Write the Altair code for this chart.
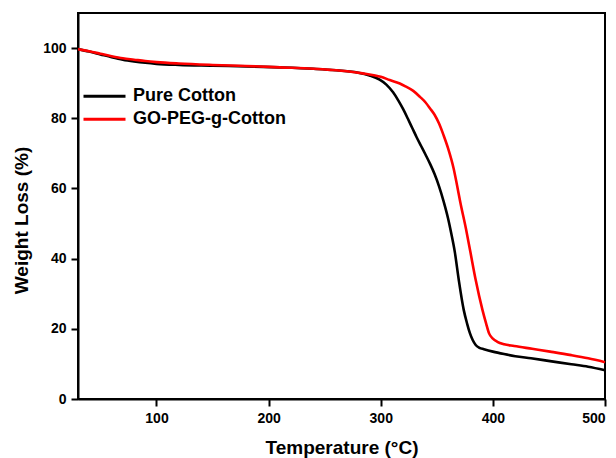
import altair as alt
import pandas as pd

# ---- data ----
temp_cotton = [30, 40, 50, 60, 70, 80, 90, 100, 120, 150, 180, 210, 240, 260, 270, 280,
               290, 299, 305, 311, 316, 320, 324, 328, 332, 336, 340, 344, 348, 352, 356,
               360, 363, 366, 369.6, 374, 377, 379.6, 382, 384.7, 388, 392, 400, 410, 420,
               434, 451, 470, 485, 500]
wt_cotton = [99.7, 99.0, 98.2, 97.4, 96.7, 96.2, 95.8, 95.5, 95.2, 95.0, 94.8, 94.5, 94.1,
             93.7, 93.4, 93.0, 92.2, 91.0, 89.6, 87.4, 84.9, 82.6, 80.0, 77.3, 74.6, 72.1,
             69.6, 67.0, 64.1, 60.6, 56.4, 51.5, 47.0, 42.0, 33.9, 25.4, 21.5, 18.7, 16.8,
             15.4, 14.6, 14.2, 13.5, 12.8, 12.2, 11.6, 10.8, 9.9, 9.2, 8.2]

temp_go = [30, 40, 50, 60, 70, 80, 90, 100, 120, 150, 180, 210, 240, 255, 270, 284, 295,
           300, 308, 317, 322, 329, 335, 340, 344, 348, 352, 356, 360, 365, 368, 371, 376,
           380, 384.7, 390.7, 394, 396.6, 400, 404, 410, 419, 435, 451, 470, 485, 500]
wt_go = [99.7, 99.1, 98.4, 97.7, 97.1, 96.7, 96.3, 96.0, 95.6, 95.2, 94.9, 94.5, 94.1, 93.8,
         93.4, 92.8, 92.2, 91.8, 90.9, 89.9, 89.1, 87.8, 86.1, 84.5, 82.8, 81.0, 78.5, 75.2,
         71.5, 65.7, 61.0, 56.0, 48.5, 41.8, 33.9, 25.4, 21.5, 18.7, 17.2, 16.3, 15.6, 15.1,
         14.3, 13.5, 12.5, 11.6, 10.5]

series_names = ["Pure Cotton", "GO-PEG-g-Cotton"]
series_colors = ["#000000", "#ff0000"]
x_ticks = [100, 200, 300, 400, 500]
y_ticks = [0, 20, 40, 60, 80, 100]

df = pd.concat([
    pd.DataFrame({"T": temp_cotton, "W": wt_cotton, "series": series_names[0], "k": 0}),
    pd.DataFrame({"T": temp_go, "W": wt_go, "series": series_names[1], "k": 1}),
], ignore_index=True)

FONT = "Liberation Sans"

chart = alt.Chart(df).mark_line(strokeWidth=2.6, interpolate="monotone").encode(
    x=alt.X("T:Q",
            scale=alt.Scale(domain=[30, 500], nice=False, zero=False),
            axis=alt.Axis(values=x_ticks, title="Temperature (°C)",
                          titleX=263.5, titleY=54, titleAlign="center",
                          titleBaseline="alphabetic", labelPadding=5)),
    y=alt.Y("W:Q",
            scale=alt.Scale(domain=[0, 110], nice=False, zero=False),
            axis=alt.Axis(values=y_ticks, title="Weight Loss (%)",
                          titleX=-57, titleY=207, titleAlign="center",
                          titleBaseline="middle", titleAngle=270, labelPadding=5)),
    color=alt.Color("series:N",
                    scale=alt.Scale(domain=series_names, range=series_colors),
                    legend=alt.Legend(title=None, orient="none", legendX=4, legendY=72,
                                      symbolType="stroke", symbolSize=1764,
                                      symbolStrokeWidth=3, labelFontSize=18,
                                      labelFont=FONT, labelFontWeight="bold",
                                      labelColor="black", labelOffset=6,
                                      clipHeight=22.6, rowPadding=0, padding=0)),
    detail="k:N",
).properties(
    width=527, height=386,
    autosize=alt.AutoSizeParams(type="none"),
    padding={"left": 78, "top": 13, "right": 11, "bottom": 59},
).configure_axis(
    grid=False, labelFont=FONT, labelFontSize=14, labelFontWeight="bold",
    labelColor="black", titleFont=FONT, titleFontSize=19, titleFontWeight="bold",
    titleColor="black", tickColor="black", tickWidth=2, tickSize=7,
    domainColor="black", domainWidth=2,
).configure_view(stroke="black", strokeWidth=2)

chart.save("out.html", embed_options={"renderer": "svg", "actions": False})
